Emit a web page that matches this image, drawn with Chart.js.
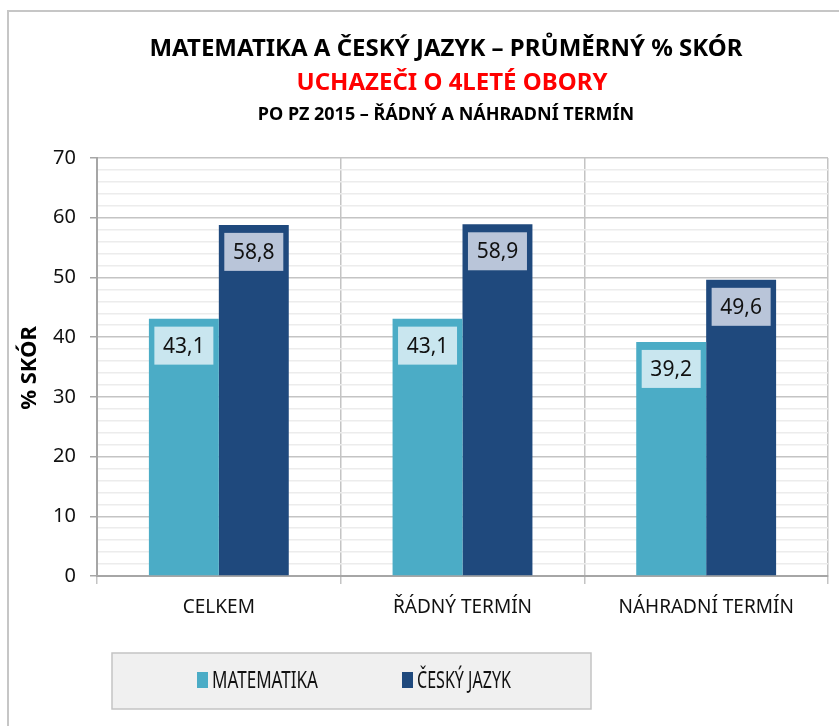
<!DOCTYPE html>
<html>
<head>
<meta charset="utf-8">
<script src="https://cdn.jsdelivr.net/npm/chart.js@4.4.0/dist/chart.umd.min.js"></script>
<style>
  html, body { margin: 0; padding: 0; background: #fff; }
  #wrap { width: 839px; height: 726px; position: relative; }
</style>
</head>
<body>
<div id="wrap"><canvas id="scoreChart" width="839" height="726"></canvas></div>
<script>
// Data
const categories = ['CELKEM', 'ŘÁDNÝ TERMÍN', 'NÁHRADNÍ TERMÍN'];
const seriesNames = ['MATEMATIKA', 'ČESKÝ JAZYK'];
const mathValues = [43.1, 43.1, 39.2];
const czechValues = [58.8, 58.9, 49.6];
const titleLines = [
    'MATEMATIKA A ČESKÝ JAZYK – PRŮMĚRNÝ % SKÓR',
    'UCHAZEČI O 4LETÉ OBORY',
    'PO PZ 2015 – ŘÁDNÝ A NÁHRADNÍ TERMÍN'
];
const yTitle = '% SKÓR';

const FONT = "'Noto Sans', 'Open Sans', sans-serif";
const barColors = ['#4BACC6', '#1F497D'];
const labelFills = ['#C9E6EF', '#B9C5D9'];

// Rámeček, titulky, popisky hodnot a legenda
const decorPlugin = {
    id: 'decor',
    beforeDraw(chart) {
        const ctx = chart.ctx;
        ctx.save();
        ctx.fillStyle = '#fff';
        ctx.fillRect(0, 0, chart.width, chart.height);
        ctx.strokeStyle = '#c6c6c6';
        ctx.lineWidth = 2;
        ctx.strokeRect(8, 11, 900, 800);
        ctx.restore();
    },
    afterDraw(chart) {
        const ctx = chart.ctx;
        ctx.save();
        ctx.textAlign = 'center';
        ctx.textBaseline = 'middle';

        // titulky
        ctx.fillStyle = '#000';
        ctx.font = 'bold 24px ' + FONT;
        ctx.fillText(titleLines[0], 446, 49, 598);
        ctx.fillStyle = '#FF0000';
        ctx.font = 'bold 24px ' + FONT;
        ctx.fillText(titleLines[1], 452, 83, 312);
        ctx.fillStyle = '#000';
        ctx.font = 'bold 18px ' + FONT;
        ctx.fillText(titleLines[2], 446, 115, 381);

        // popisek osy Y
        ctx.save();
        ctx.translate(30, 368);
        ctx.rotate(-Math.PI / 2);
        ctx.font = 'bold 22px ' + FONT;
        ctx.fillText(yTitle, 0, 0, 84);
        ctx.restore();

        // popisky hodnot
        ctx.font = '21px ' + FONT;
        chart.data.datasets.forEach((ds, di) => {
            const meta = chart.getDatasetMeta(di);
            meta.data.forEach((bar, i) => {
                const w = 59, h = 38;
                const x = bar.x - w / 2;
                const y = bar.y + 8;
                ctx.fillStyle = labelFills[di];
                ctx.fillRect(x, y, w, h);
                ctx.fillStyle = '#111';
                ctx.fillText(ds.data[i].toFixed(1).replace('.', ','), bar.x, y + h / 2 + 1, 45);
            });
        });

        // legenda
        ctx.fillStyle = '#f0f0f0';
        ctx.fillRect(112, 653, 479, 56);
        ctx.strokeStyle = '#c4c4c4';
        ctx.lineWidth = 1.5;
        ctx.strokeRect(112, 653, 479, 56);
        const legendX = [197, 402];
        const legendW = [106, 94];
        ctx.textAlign = 'left';
        ctx.font = '23px ' + FONT;
        chart.data.datasets.forEach((ds, di) => {
            ctx.fillStyle = ds.backgroundColor;
            ctx.fillRect(legendX[di], 672, 11, 16);
            ctx.fillStyle = '#111';
            ctx.fillText(ds.label, legendX[di] + 15, 681, legendW[di]);
        });
        ctx.restore();
    }
};

const ctx = document.getElementById('scoreChart').getContext('2d');
new Chart(ctx, {
    type: 'bar',
    data: {
        labels: categories,
        datasets: [
            { label: seriesNames[0], data: mathValues, backgroundColor: barColors[0] },
            { label: seriesNames[1], data: czechValues, backgroundColor: barColors[1] }
        ]
    },
    options: {
        responsive: false,
        animation: false,
        layout: { padding: { left: 0, right: 11, top: 158, bottom: 90 } },
        plugins: {
            legend: { display: false },
            title: { display: false },
            tooltip: { enabled: false }
        },
        datasets: {
            bar: { categoryPercentage: 0.574, barPercentage: 1.0 }
        },
        scales: {
            x: {
                grid: {
                    offset: true,
                    color: '#c4c4c4',
                    lineWidth: 1.5,
                    tickLength: 8
                },
                border: { color: '#a6a6a6', width: 2 },
                ticks: {
                    color: '#111',
                    padding: 12,
                    font: { family: FONT, size: 19 }
                },
                afterFit(scale) { scale.height = 60; }
            },
            y: {
                min: 0,
                max: 70,
                ticks: {
                    stepSize: 2,
                    autoSkip: false,
                    color: '#111',
                    padding: 14,
                    font: { family: FONT, size: 20 },
                    callback: v => (v % 10 === 0 ? String(v) : '')
                },
                grid: {
                    color: c => (c.tick && c.tick.value % 10 === 0 ? '#c4c4c4' : '#ececec'),
                    lineWidth: 1.5,
                    tickColor: c => (c.tick && c.tick.value % 10 === 0 ? '#a6a6a6' : 'rgba(0,0,0,0)'),
                    tickLength: 7
                },
                border: { color: '#a6a6a6', width: 2 },
                afterFit(scale) { scale.width = 97; }
            }
        }
    },
    plugins: [decorPlugin]
});
</script>
</body>
</html>
